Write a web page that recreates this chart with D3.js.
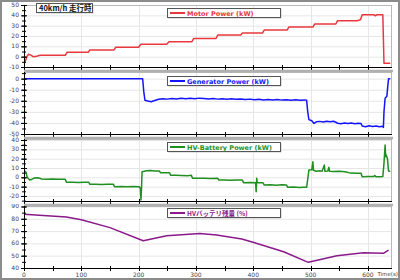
<!DOCTYPE html>
<html>
<head>
<meta charset="utf-8">
<script src="https://cdn.jsdelivr.net/npm/d3@7"></script>
<style>
  body { margin: 0; background: #fff; }
  svg { display: block; }
</style>
</head>
<body>
<svg id="chart" width="400" height="280"></svg>
<script>
// time (s), value pairs
const motorPower = [[0,-6.4],[2,-5],[5,0],[8,2.3],[12,1.5],[16,0],[22,0.4],[28,1.3],[72,1.3],[75,4.2],[112,4.2],[115,6.5],[157,6.5],[160,9.1],[200,9.1],[204,12],[249,12],[253,14.5],[293,14.5],[296,17.6],[335,17.6],[338,21],[378,21],[381,22.9],[416,22.9],[419,25.8],[459,25.8],[462,28.7],[504,28.7],[507,31.6],[544,31.6],[547,34.8],[581,34.8],[587,35.8],[590,40.6],[610,40.6],[613,39.6],[616,40.6],[626,40.6],[628,-6.4],[639,-6.4]];

const generatorPower = [[0,0],[207,0],[209,-12],[211,-19.5],[216,-20.2],[222,-20.8],[228,-19.8],[235,-18.6],[242,-18.2],[250,-18.5],[258,-17.9],[266,-18.3],[274,-17.8],[282,-18.1],[290,-17.7],[298,-18.2],[306,-17.6],[314,-18.0],[322,-18.4],[330,-17.9],[338,-18.5],[346,-18.1],[354,-18.6],[362,-18.2],[370,-18.7],[378,-18.4],[386,-18.9],[394,-18.5],[402,-19.0],[410,-18.6],[418,-19.2],[426,-18.9],[434,-19.3],[442,-18.8],[450,-19.4],[458,-19.0],[466,-19.5],[474,-19.1],[482,-19.6],[490,-19.2],[493,-19.4],[495,-30],[497,-37],[502,-38],[506,-40.5],[510,-39],[516,-38.6],[522,-39.2],[528,-38.4],[534,-39],[540,-38.5],[544,-39.4],[547,-40.3],[553,-40.8],[559,-40.1],[565,-40.6],[571,-40.0],[577,-40.7],[583,-40.2],[588,-40.6],[590,-42.8],[596,-43.4],[602,-42.6],[608,-43.3],[614,-42.7],[620,-43.5],[626,-42.9],[627,-44],[628,-30],[630,-17.7],[633,-16],[635,-5],[636,0],[639,0]];

const batteryPower = [[0,6],[2,6.5],[4,5],[5,1],[7,-1],[10,-2.9],[14,-2],[18,-0.8],[23,-0.4],[27,-1],[31,-1.8],[40,-2],[50,-1.9],[60,-2.1],[72,-2],[74,-5.4],[85,-5.3],[95,-5.5],[105,-5.2],[113,-5.4],[115,-7.5],[125,-7.4],[135,-7.6],[145,-7.4],[156,-7.5],[158,-10],[170,-9.9],[180,-10.1],[190,-9.8],[201,-10],[203,-12],[204,-24.3],[205,-12],[206,6],[210,6.5],[213,7],[220,7.2],[228,6.8],[236,6.9],[238,5],[246,4.9],[254,4.8],[256,2.1],[265,2.3],[275,2],[285,1.8],[292,2.1],[294,-1.1],[305,-1],[315,-1],[325,-1.2],[338,-1.1],[340,-2.9],[350,-2.8],[360,-3.2],[370,-3],[381,-3],[383,-5.7],[395,-5.6],[404,-5.8],[405,-15.4],[406,-1],[407,-5.7],[417,-5.8],[419,-8.2],[430,-8],[440,-8.4],[450,-8.1],[458,-8.2],[460,-10.7],[470,-10.5],[480,-10.9],[488,-10.6],[493,-10.7],[495,-2],[497,7.8],[502,8],[504,16.7],[505,7.5],[510,6.5],[515,7],[520,6.6],[524,13.2],[525,6.4],[530,6.8],[532,10.7],[533,6.5],[540,6.2],[550,6.4],[560,6],[570,4.5],[580,4.3],[588,4.4],[590,0.6],[600,0.8],[610,0.9],[612,2],[614,0.7],[620,0.5],[626,0.8],[628,15],[630,34.6],[631,22],[632,23.9],[634,20],[636,6.7],[639,6.5]];

const batteryLevel = [[0,83.7],[74,81.5],[100,79.3],[150,72.8],[208,62.2],[249,66.3],[307,68],[336,66.8],[380,63.5],[401,60.8],[453,53.2],[496,44.6],[546,50],[592,52.4],[627,51.9],[636,54.6]];

const timeTicks = [0, 100, 200, 300, 400, 500, 600];
const motorTicks = [-10, 0, 10, 20, 30, 40, 50];
const generatorTicks = [0, -10, -20, -30, -40, -50, -60];
const batteryTicks = [-20, -10, 0, 10, 20, 30, 40];
const levelTicks = [40, 50, 60, 70, 80, 90];

const titleText = "40km/h 走行時";

// panel layout
const panels = [
  { name: "Motor Power (kW)", data: motorPower, color: "#e8383d", top: 5, bottom: 67, domain: [-10, 50], ticks: motorTicks, legendY: 8 },
  { name: "Generator Power (kW)", data: generatorPower, color: "#1414ff", top: 72, bottom: 134, domain: [-50, 6], ticks: generatorTicks, legendY: 76 },
  { name: "HV-Battery Power (kW)", data: batteryPower, color: "#1f8f1f", top: 139, bottom: 201, domain: [-25.4, 41.1], ticks: batteryTicks, legendY: 142 },
  { name: "HVバッテリ残量 (%)", data: batteryLevel, color: "#8a1a8a", top: 206, bottom: 268, domain: [40, 90.4], ticks: levelTicks, legendY: 208 }
];

const left = 24, right = 392;
const font = "'DejaVu Sans', sans-serif";

const svg = d3.select("#chart");
const defs = svg.append("defs");

// x scale shared by all panels
const x = d3.scaleLinear().domain([0, 642]).range([left, right]);

panels.forEach((p, i) => {
  const y = d3.scaleLinear().domain(p.domain).range([p.bottom, p.top]);
  const g = svg.append("g");

  // label band so that tick labels running past the panel are cut like in the picture
  const bandTop = i === 0 ? 0 : p.top - 2;
  const bandBottom = i === panels.length - 1 ? 280 : panels[i + 1].top - 2;
  defs.append("clipPath").attr("id", "lab" + i).append("rect")
    .attr("x", 0).attr("y", bandTop).attr("width", left).attr("height", bandBottom - bandTop);

  // grid
  const yStep = 10;
  const gridY = d3.range(Math.ceil(p.domain[0] / yStep) * yStep, p.domain[1], yStep);
  g.selectAll(".gy").data(gridY).enter().append("line")
    .attr("x1", left).attr("x2", right)
    .attr("y1", d => y(d) + 0.5).attr("y2", d => y(d) + 0.5)
    .attr("stroke", "#e6e6e6").attr("stroke-width", 1);
  g.selectAll(".gx").data(timeTicks.filter(d => d > 0)).enter().append("line")
    .attr("x1", d => Math.round(x(d)) + 0.5).attr("x2", d => Math.round(x(d)) + 0.5)
    .attr("y1", p.top).attr("y2", p.bottom)
    .attr("stroke", "#e6e6e6").attr("stroke-width", 1);

  // frame
  g.append("rect").attr("x", left + 0.5).attr("y", p.top + 0.5)
    .attr("width", right - left - 1).attr("height", p.bottom - p.top)
    .attr("fill", "none").attr("stroke", "#b8b8b8").attr("stroke-width", 1);
  if (i > 0) {
    g.append("line").attr("x1", left).attr("x2", right + 1)
      .attr("y1", p.top - 1).attr("y2", p.top - 1)
      .attr("stroke", "#b0b0b0").attr("stroke-width", 2.5);
  }

  // series line
  const line = d3.line().x(d => x(d[0])).y(d => y(d[1]));
  g.append("path").datum(p.data)
    .attr("d", line).attr("fill", "none")
    .attr("stroke", p.color).attr("stroke-width", 1.5)
    .attr("stroke-linejoin", "round");

  // y axis with major and minor ticks
  const yMinor = d3.range(p.domain[0], p.domain[1] + 0.01, 5).map(d => Math.ceil(d / 5) * 5);
  g.selectAll(".ym").data(yMinor).enter().append("line")
    .attr("x1", left - 2).attr("x2", left + 2)
    .attr("y1", d => y(d) + 0.5).attr("y2", d => y(d) + 0.5)
    .attr("stroke", "#000").attr("stroke-width", 1);
  g.selectAll(".yt").data(p.ticks).enter().append("line")
    .attr("x1", left - 3).attr("x2", left + 3)
    .attr("y1", d => y(d) + 0.5).attr("y2", d => y(d) + 0.5)
    .attr("stroke", "#000").attr("stroke-width", 1);
  g.append("g").attr("clip-path", `url(#lab${i})`)
    .selectAll(".yl").data(p.ticks).enter().append("text")
    .attr("x", left - 5).attr("y", d => Math.min(y(d) + 2, bandBottom + 4))
    .attr("text-anchor", "end").attr("font-family", font)
    .attr("font-size", 6).attr("fill", "#444").text(d => d);
  g.append("line").attr("x1", left + 0.5).attr("x2", left + 0.5)
    .attr("y1", p.top).attr("y2", p.bottom + 3)
    .attr("stroke", "#000").attr("stroke-width", 1);

  // x axis
  const xMinor = d3.range(0, 642, 50);
  g.append("line").attr("x1", left).attr("x2", right)
    .attr("y1", p.bottom + 0.5).attr("y2", p.bottom + 0.5)
    .attr("stroke", "#000").attr("stroke-width", 1);
  g.selectAll(".xt").data(xMinor).enter().append("line")
    .attr("x1", d => Math.round(x(d)) + 0.5).attr("x2", d => Math.round(x(d)) + 0.5)
    .attr("y1", p.bottom - 2).attr("y2", p.bottom + 3)
    .attr("stroke", "#000").attr("stroke-width", 1);

  if (i === panels.length - 1) {
    g.selectAll(".xl").data(timeTicks).enter().append("text")
      .attr("x", d => x(d)).attr("y", p.bottom + 9)
      .attr("text-anchor", "middle").attr("font-family", font)
      .attr("font-size", 6).attr("fill", "#444").text(d => d);
    g.append("text").attr("x", 398).attr("y", p.bottom + 8)
      .attr("text-anchor", "end").attr("font-family", font)
      .attr("font-size", 5.5).attr("fill", "#444").text("Time(s)");
  }

  // legend box
  const lg = g.append("g").attr("transform", `translate(167,${p.legendY})`);
  lg.append("rect").attr("x", 1.5).attr("y", 1.5).attr("width", 113).attr("height", 9)
    .attr("fill", "#c8c8c8");
  lg.append("rect").attr("x", 0.5).attr("y", 0.5).attr("width", 113).attr("height", 9)
    .attr("fill", "#fff").attr("stroke", "#555").attr("stroke-width", 1);
  lg.append("line").attr("x1", 3).attr("x2", 18).attr("y1", 5).attr("y2", 5)
    .attr("stroke", p.color).attr("stroke-width", 2);
  lg.append("text").attr("x", 20).attr("y", 7.5)
    .attr("font-family", i === 3 ? "'Noto Sans CJK JP', " + font : font)
    .attr("font-size", 6.5).attr("font-weight", "bold")
    .attr("fill", p.color).text(p.name);
});

// title box
const tg = svg.append("g").attr("transform", "translate(36,3)");
tg.append("rect").attr("x", 1.5).attr("y", 1.5).attr("width", 56).attr("height", 9).attr("fill", "#c8c8c8");
tg.append("rect").attr("x", 0.5).attr("y", 0.5).attr("width", 56).attr("height", 9)
  .attr("fill", "#fff").attr("stroke", "#555").attr("stroke-width", 1);
tg.append("text").attr("x", 3).attr("y", 8)
  .attr("font-family", "'Noto Sans CJK JP', sans-serif")
  .attr("font-size", 7.5).attr("font-weight", "bold").attr("fill", "#111").text(titleText);

// outer border
svg.append("rect").attr("x", 1).attr("y", 1).attr("width", 398).attr("height", 278)
  .attr("fill", "none").attr("stroke", "#8c8c8c").attr("stroke-width", 2);
</script>
</body>
</html>
